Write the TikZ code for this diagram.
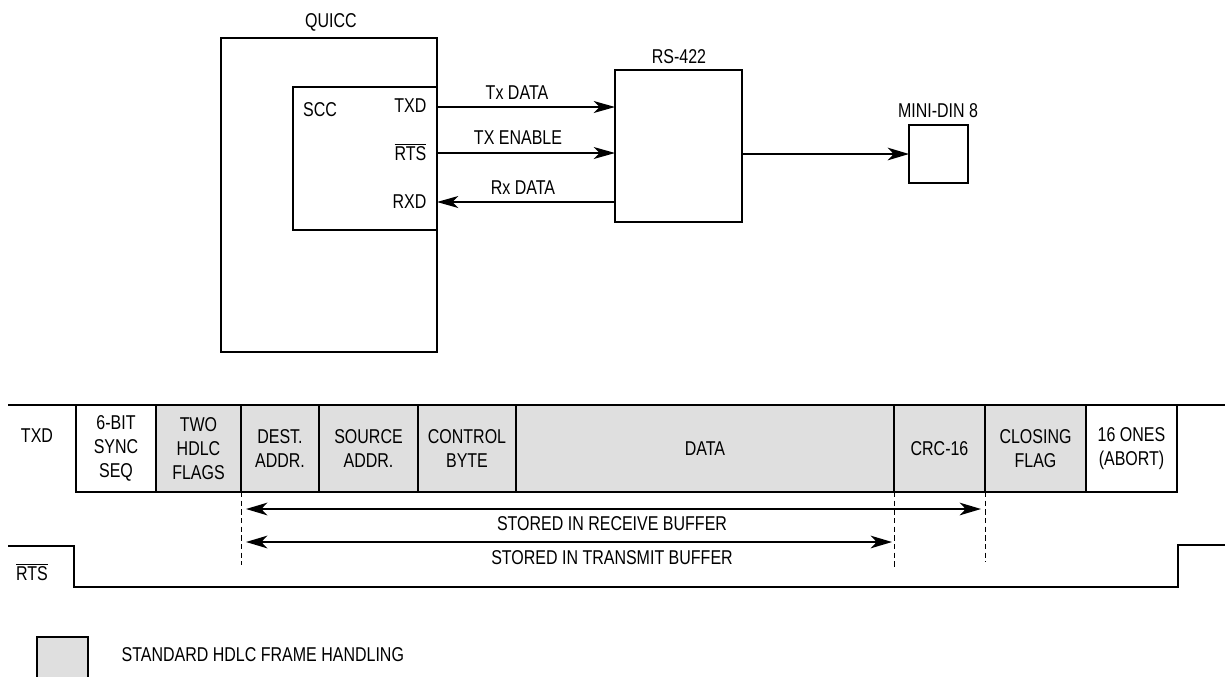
\documentclass[tikz,border=0pt]{standalone}
\usepackage{fontspec}
\setmainfont{Liberation Sans}[FakeStretch=0.8]
\usetikzlibrary{arrows.meta,positioning}
\newcommand\lblfont{\fontsize{15}{18}\selectfont}
\tikzset{
  blk/.style={draw=black, line width=1.6pt, inner sep=0pt, outer sep=0pt},
  cell/.style={draw=black, line width=1.6pt, minimum height=65.25pt, inner sep=0pt, outer sep=0pt, align=center, font=\lblfont},
  hdlc/.style={cell, fill=gray!25},
  lbl/.style={inner sep=1pt, font=\lblfont},
  sig/.style={-{Stealth[length=16pt, width=9pt, inset=4.5pt]}, line width=0.9pt},
  plug/.style={-{Stealth[length=16pt, width=9.5pt, inset=4.5pt]}, line width=1.5pt},
  buf/.style={{Stealth[length=16pt, width=9.5pt, inset=4.5pt]}-{Stealth[length=16pt, width=9.5pt, inset=4.5pt]}, line width=1.5pt},
  guide/.style={line width=0.6pt, dash pattern=on 4pt off 2.5pt},
  wave/.style={line width=1.6pt}
}

\begin{document}
\begin{tikzpicture}[x=0.75pt, y=-0.75pt]
  \useasboundingbox (0,0) rectangle (1225,676);
  \clip (0,0) rectangle (1225,676);

  \node[blk, minimum width=162pt, minimum height=235.5pt] (quicc) at (329,195) {};
  \node[blk, minimum width=108pt, minimum height=107.25pt] (scc) at (365,158.5) {};
  \node[blk, minimum width=95.25pt, minimum height=114pt] (rs422) at (678.5,146) {};
  \node[blk, minimum width=44.25pt, minimum height=43.5pt] (din) at (938.5,154) {};
  \node[lbl] (quicclbl) at (331,22) {QUICC};
  \node[lbl] (rslbl) at (679,57) {RS-422};
  \node[lbl] (dinlbl) at (938,111) {MINI-DIN 8};
  \node[lbl] (scclbl) at (320,110) {SCC};
  \node[lbl, anchor=east] (txd) at (428,106) {TXD};
  \node[lbl, anchor=east] (rts) at (428,152) {$\overline{\hbox{RTS}}$};
  \node[lbl, anchor=east] (rxd) at (428,202) {RXD};
  \node[lbl] (txdata) at (517,93) {Tx DATA};
  \node[lbl] (txen) at (518,138) {TX ENABLE};
  \node[lbl] (rxdata) at (523,188) {Rx DATA};
  \draw[sig] (scc.east |- 0,107) -- (rs422.west |- 0,107);
  \draw[sig] (scc.east |- 0,153) -- (rs422.west |- 0,153);
  \draw[sig] (rs422.west |- 0,202) -- (scc.east |- 0,202);
  \draw[plug] (rs422.east |- din) -- (din.west);

  \coordinate (topl) at (8,405);
  \coordinate (topr) at (1225,405);
  \draw[wave] (topl) -- (topr);
  \node[lbl] (txdlbl) at (37,436) {TXD};
  \node[cell, minimum width=60pt] (sync) at (116,448.5) {6-BIT\\SYNC\\SEQ};
  \node[hdlc, minimum width=63.75pt, right=0pt of sync] (flags) {TWO\\HDLC\\FLAGS};
  \node[hdlc, minimum width=58.5pt, right=0pt of flags] (dest) {DEST.\\ADDR.};
  \node[hdlc, minimum width=74.25pt, right=0pt of dest] (src) {SOURCE\\ADDR.};
  \node[hdlc, minimum width=73.5pt, right=0pt of src] (ctrl) {CONTROL\\BYTE};
  \node[hdlc, minimum width=283.5pt, right=0pt of ctrl] (data) {DATA};
  \node[hdlc, minimum width=68.25pt, right=0pt of data] (crc) {CRC-16};
  \node[hdlc, minimum width=75.75pt, right=0pt of crc] (closing) {CLOSING\\FLAG};
  \node[cell, minimum width=68.25pt, right=0pt of closing] (ones) {16 ONES\\(ABORT)};

  \draw[guide] (dest.south west) -- ++(0,73);
  \draw[guide] (crc.south west) -- ++(0,75);
  \draw[guide] (closing.south west) -- ++(0,70);
  \coordinate (rcvl) at (246,509);
  \coordinate (rcvr) at (981,509);
  \coordinate (xmtl) at (246,542);
  \coordinate (xmtr) at (892,542);
  \draw[buf] (rcvl) -- (rcvr);
  \draw[buf] (xmtl) -- (xmtr);
  \node[lbl] (rcvlbl) at (612,524) {STORED IN RECEIVE BUFFER};
  \node[lbl] (xmtlbl) at (612,558) {STORED IN TRANSMIT BUFFER};

  \draw[wave] (8,546) -- (74,546) -- (74,587) -- (1178,587) -- (1178,545) -- (1225,545);
  \node[lbl] (rtslbl) at (32,572) {$\overline{\hbox{RTS}}$};

  \node[blk, fill=gray!25, minimum width=38.25pt, minimum height=38.25pt] (key) at (62.5,662.5) {};
  \node[lbl, anchor=west] (keylbl) at (120,655) {STANDARD HDLC FRAME HANDLING};
\end{tikzpicture}
\end{document}
